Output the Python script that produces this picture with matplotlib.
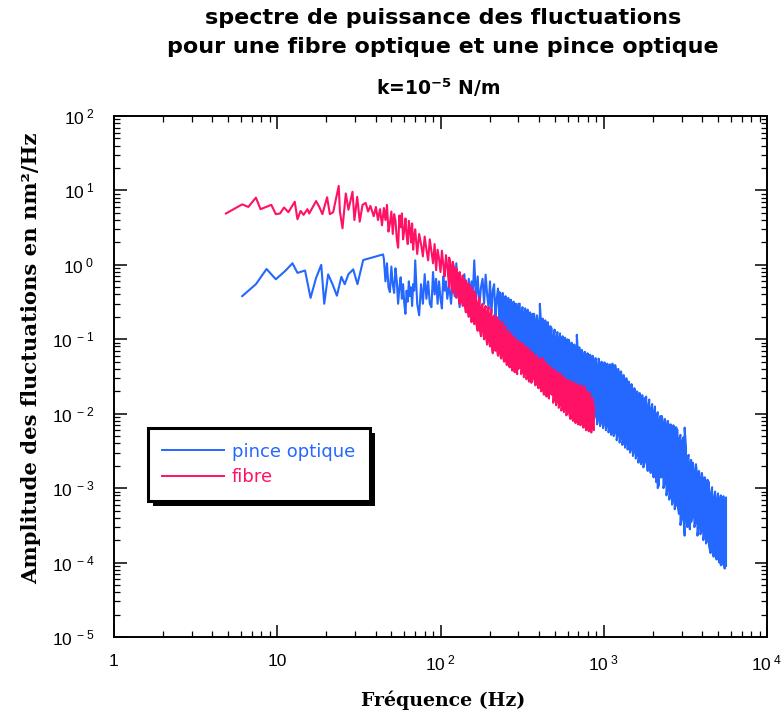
import matplotlib
matplotlib.use("Agg")
import matplotlib.pyplot as plt
from matplotlib.lines import Line2D
from matplotlib.patches import Rectangle

plt.rcParams['mathtext.fontset'] = 'custom'
plt.rcParams['mathtext.rm'] = 'Liberation Sans'
plt.rcParams['mathtext.bf'] = 'DejaVu Sans:bold'
plt.rcParams['mathtext.it'] = 'Liberation Sans:italic'

# ---------------- data ----------------
# Part 1: individual points of each spectrum (low frequencies, where the trace is a visible line)
fibre_line_freq = [4.85, 6.1, 6.65, 7.4, 7.9, 9.2, 9.8, 10.4, 11.0, 11.7, 12.8, 13.3, 13.9, 14.5, 15.3, 15.7,
                   17.3, 18.1, 18.9, 20.2, 21.0, 22.0, 23.8, 24.2, 25.1, 26.3, 27.3, 28.9, 29.7, 30.9, 32.0,
                   33.3, 34.8, 36.0, 37.2, 39.0, 40.2, 41.4, 42.6, 43.8,
                   45, 46, 47, 48, 49, 50, 51, 52, 53, 54, 55, 56, 57, 58, 59, 60, 61, 62, 63, 64, 65, 66,
                   67, 68, 69, 70, 72, 74, 76, 78, 80, 82, 84, 86, 88, 90, 92, 94, 96, 98, 100, 102, 104,
                   106, 108, 110]
fibre_line_amp = [4.9, 6.5, 6.0, 8.0, 5.6, 6.4, 4.8, 4.9, 5.9, 5.1, 7.05, 4.1, 5.3, 4.7, 5.6, 4.9,
                  7.2, 6.0, 4.8, 8.1, 4.8, 5.1, 11.5, 5.2, 3.1, 9.1, 5.5, 9.6, 4.0, 8.2, 3.8,
                  6.4, 6.8, 5.2, 6.2, 4.5, 6.0, 4.0, 5.6, 3.4,
                  5.8, 4.0, 6.4, 2.8, 3.6, 5.2, 2.6, 4.8, 3.9, 2.2, 1.7, 4.6, 3.2, 4.9, 2.2, 2.9, 4.2, 2.5, 1.9, 3.9,
                  3.0, 2.0, 3.6, 1.6, 2.4, 3.0,
                  1.4, 2.6, 1.9, 1.3, 2.4, 1.6, 1.15, 2.2, 1.5, 1.05, 1.9, 0.85, 1.6, 1.2, 0.8, 1.55, 1.0, 0.7,
                  1.35, 0.95]

pince_line_freq = [6.1, 7.4, 8.6, 9.8, 11.2, 12.4, 13.3, 14.8, 16.0, 17.3, 18.6, 19.4, 20.5, 21.8, 23.2, 24.7,
                   25.9, 27.3, 29.2, 31.0, 33.6, 44.5,
                   45, 46, 47, 48, 49, 50, 51, 52, 53, 54, 55, 56, 57, 58, 59, 60, 61, 62, 63, 64, 65, 66,
                   67, 68, 69, 70, 72, 74, 76, 78, 80, 82, 84, 86, 88, 90, 92, 94, 96, 98, 100, 102, 104,
                   106, 108, 110, 113, 116, 119, 122, 125, 128, 131, 134, 137, 140, 143, 146, 149, 152, 155,
                   158, 161, 165, 169, 173, 177, 181, 185, 189, 193, 197, 201, 205, 209, 213, 217, 221, 225]
pince_line_amp = [0.38, 0.55, 0.88, 0.64, 0.83, 1.05, 0.78, 0.84, 0.36, 0.67, 1.0, 0.30, 0.745, 0.55, 0.385, 0.69,
                  0.55, 0.75, 0.87, 0.55, 1.16, 1.38,
                  1.2, 0.6, 1.05, 0.5, 0.43, 0.95, 0.55, 0.42, 0.9, 0.6, 0.3, 0.5, 0.68, 0.35, 0.55, 0.3, 0.22, 0.45,
                  0.32, 0.6, 0.38, 0.5, 0.28, 0.55, 0.45, 1.15,
                  0.3, 0.21, 0.55, 0.3, 0.75, 0.35, 0.6, 0.3, 0.27, 0.8, 0.4, 0.65, 0.3, 0.6, 0.35, 0.26, 0.7, 0.45,
                  0.6, 0.35,
                  0.55, 0.3, 0.65, 0.38, 1.05, 0.45, 0.27, 0.6, 0.33, 0.75, 0.4, 0.3, 0.65, 0.35, 0.6, 0.42, 1.15,
                  0.35, 0.7, 0.28, 0.5, 0.65, 0.3, 0.74, 0.4, 0.26, 0.6, 0.22, 0.45, 0.55, 0.2, 0.35, 0.48]

# Part 2: dense band at higher frequencies: per frequency bin, the lowest and highest value of the trace
band_freq = [113, 116, 119, 122, 125, 128, 131, 134, 137, 140, 143, 146, 149, 152, 155, 158, 161,
             165, 169, 173, 177, 181, 185, 189, 193, 197, 201, 205, 209, 213, 217, 221, 225,
             230, 235, 240, 245, 250, 255, 260, 265, 270, 275, 280, 285, 290, 295, 300,
             306, 312, 318, 324, 330, 336, 342, 348, 354, 360, 366,
             374, 382, 390, 398, 406, 414, 422, 430, 438, 446, 454, 462, 470,
             480, 490, 500, 510, 520, 530, 540, 550, 560, 570, 580, 590, 600,
             612, 624, 636, 648, 660, 672, 684, 696, 708, 720,
             735, 750, 765, 780, 795, 810, 825, 840, 855, 870,
             890, 910, 930, 950, 970, 990, 1010, 1030, 1050, 1070, 1090, 1110, 1130, 1150,
             1175, 1200, 1225, 1250, 1275, 1300, 1325, 1350, 1375, 1400, 1425, 1450,
             1480, 1510, 1540, 1570, 1600, 1630, 1660, 1690, 1720, 1750, 1780,
             1820, 1860, 1900, 1940, 1980, 2020, 2060, 2100, 2140, 2180, 2220,
             2270, 2320, 2370, 2420, 2470, 2520, 2570, 2620, 2670, 2720, 2770,
             2830, 2890, 2950, 3010, 3070, 3130, 3190, 3250, 3310, 3370, 3430,
             3510, 3590, 3670, 3750, 3830, 3910, 3990, 4070, 4150, 4230, 4310,
             4410, 4510, 4610, 4710, 4810, 4910, 5010, 5110, 5210, 5310, 5410, 5510, 5610]

fibre_band_hi = [1.25, 0.95, 1.1, 0.85, 0.9, 0.7, 0.8, 0.6, 0.72, 0.55, 0.62, 0.5, 0.56, 0.42, 0.5, 0.38, 0.44,
                 0.37, 0.3, 0.36, 0.27, 0.3, 0.24, 0.28, 0.22, 0.27, 0.2, 0.25, 0.19, 0.21, 0.17, 0.2, 0.18,
                 0.18, 0.14, 0.17, 0.12, 0.15, 0.11, 0.13, 0.1, 0.12, 0.09, 0.11, 0.085, 0.1, 0.08, 0.095,
                 0.09, 0.075, 0.088, 0.07, 0.08, 0.065, 0.078, 0.062, 0.07, 0.058, 0.066,
                 0.062, 0.05, 0.06, 0.046, 0.055, 0.044, 0.056, 0.041, 0.05, 0.04, 0.046, 0.036, 0.043,
                 0.04, 0.032, 0.039, 0.03, 0.036, 0.028, 0.035, 0.026, 0.032, 0.025, 0.03, 0.024, 0.028,
                 0.028, 0.022, 0.027, 0.021, 0.026, 0.02, 0.025, 0.019, 0.024, 0.018,
                 0.024, 0.018, 0.023, 0.017, 0.02, 0.015, 0.019, 0.014, 0.016, 0.013]
fibre_band_lo = [0.5, 0.62, 0.42, 0.52, 0.36, 0.45, 0.3, 0.4, 0.28, 0.34, 0.23, 0.3, 0.2, 0.26, 0.17, 0.22, 0.16,
                 0.17, 0.13, 0.15, 0.11, 0.14, 0.1, 0.12, 0.085, 0.11, 0.08, 0.1, 0.065, 0.09, 0.07, 0.08, 0.06,
                 0.07, 0.055, 0.065, 0.05, 0.06, 0.045, 0.055, 0.042, 0.05, 0.038, 0.047, 0.036, 0.044, 0.034, 0.04,
                 0.042, 0.034, 0.04, 0.031, 0.038, 0.029, 0.036, 0.027, 0.034, 0.026, 0.031,
                 0.03, 0.024, 0.029, 0.022, 0.026, 0.02, 0.025, 0.018, 0.023, 0.017, 0.021, 0.016, 0.02,
                 0.018, 0.014, 0.017, 0.013, 0.016, 0.012, 0.014, 0.011, 0.013, 0.0105, 0.012, 0.0095, 0.011,
                 0.0105, 0.0085, 0.0098, 0.008, 0.0095, 0.0075, 0.009, 0.0072, 0.0085, 0.007,
                 0.008, 0.0065, 0.0078, 0.006, 0.0072, 0.0058, 0.007, 0.0056, 0.0065, 0.006]

pince_band_hi = [None] * 33 + [
                 0.43, 0.34, 0.42, 0.3, 0.38, 0.28, 0.36, 0.27, 0.34, 0.25, 0.32, 0.24, 0.3, 0.23, 0.3,
                 0.3, 0.22, 0.27, 0.2, 0.26, 0.19, 0.25, 0.18, 0.23, 0.17, 0.22,
                 0.22, 0.16, 0.21, 0.15, 0.3, 0.15, 0.19, 0.13, 0.18, 0.12, 0.17, 0.11, 0.15,
                 0.14, 0.1, 0.135, 0.095, 0.125, 0.09, 0.12, 0.085, 0.11, 0.08, 0.105, 0.078, 0.1,
                 0.098, 0.072, 0.09, 0.068, 0.085, 0.065, 0.115, 0.06, 0.078, 0.058,
                 0.072, 0.055, 0.068, 0.05, 0.065, 0.048, 0.062, 0.046, 0.06, 0.044,
                 0.056, 0.042, 0.055, 0.04, 0.05, 0.038, 0.049, 0.036, 0.047, 0.035, 0.046, 0.033, 0.047, 0.032,
                 0.045, 0.032, 0.04, 0.03, 0.037, 0.027, 0.033, 0.024, 0.03, 0.022, 0.027, 0.02,
                 0.025, 0.019, 0.022, 0.017, 0.02, 0.015, 0.019, 0.014, 0.0178, 0.013, 0.016,
                 0.017, 0.012, 0.0155, 0.011, 0.0135, 0.0095, 0.0125, 0.0085, 0.0105, 0.0075, 0.0093,
                 0.0093, 0.007, 0.0085, 0.0065, 0.008, 0.006, 0.0072, 0.0055, 0.007, 0.005, 0.0066,
                 0.006, 0.0045, 0.0052, 0.004, 0.0048, 0.0065, 0.0035, 0.0025, 0.0028, 0.002, 0.0024,
                 0.0022, 0.0016, 0.0021, 0.0014, 0.0017, 0.0012, 0.0016, 0.0011, 0.0014, 0.001, 0.0013,
                 0.0012, 0.0008, 0.00103, 0.0007, 0.0009, 0.00065, 0.00085, 0.0006, 0.0008, 0.00058, 0.00078,
                 0.0006, 0.00075]
pince_band_lo = [None] * 33 + [
                 0.14, 0.11, 0.15, 0.1, 0.13, 0.09, 0.16, 0.085, 0.1, 0.08, 0.095, 0.075, 0.09, 0.07, 0.085,
                 0.085, 0.065, 0.082, 0.06, 0.07, 0.055, 0.068, 0.05, 0.066, 0.048, 0.062,
                 0.055, 0.043, 0.052, 0.04, 0.045, 0.036, 0.043, 0.033, 0.04, 0.03, 0.038, 0.028, 0.035,
                 0.034, 0.026, 0.033, 0.024, 0.029, 0.022, 0.027, 0.02, 0.026, 0.019, 0.026, 0.018, 0.023,
                 0.022, 0.016, 0.021, 0.015, 0.018, 0.013, 0.016, 0.012, 0.015, 0.011,
                 0.014, 0.0105, 0.0135, 0.0098, 0.013, 0.0092, 0.0115, 0.0088, 0.011, 0.0082,
                 0.0096, 0.0072, 0.009, 0.0068, 0.0085, 0.0064, 0.008, 0.006, 0.0076, 0.0056, 0.0074, 0.0052,
                 0.0068, 0.005,
                 0.0058, 0.0044, 0.0056, 0.0041, 0.005, 0.0038, 0.0048, 0.0035, 0.0047, 0.0033, 0.0043, 0.003,
                 0.0036, 0.0027, 0.0034, 0.0025, 0.003, 0.0022, 0.0029, 0.0021, 0.0025, 0.0019, 0.0023,
                 0.0024, 0.0017, 0.0022, 0.0016, 0.0019, 0.0014, 0.0017, 0.0012, 0.001, 0.0011, 0.0014,
                 0.0014, 0.001, 0.0012, 0.0008, 0.001, 0.0007, 0.0009, 0.0006, 0.00075, 0.00052, 0.00062,
                 0.0006, 0.00045, 0.00032, 0.0004, 0.00045, 0.00023, 0.00042, 0.0003, 0.00038, 0.00028, 0.00035,
                 0.00042, 0.0003, 0.00035, 0.00023, 0.00033, 0.00024, 0.00028, 0.0002, 0.00025, 0.00018, 0.0002,
                 0.00017, 0.000134, 0.00016, 0.00012, 0.00014, 0.00011, 0.00012, 0.0001, 0.000092, 0.000095,
                 0.0001, 0.000083, 0.00009]

assert len(fibre_line_freq) == len(fibre_line_amp), (len(fibre_line_freq), len(fibre_line_amp))
assert len(pince_line_freq) == len(pince_line_amp), (len(pince_line_freq), len(pince_line_amp))
assert len(fibre_band_hi) == len(fibre_band_lo), (len(fibre_band_hi), len(fibre_band_lo))
assert len(pince_band_hi) == len(band_freq) == len(pince_band_lo), (len(pince_band_hi), len(band_freq), len(pince_band_lo))

series_labels = ["pince optique", "fibre"]
series_colors = ["#2468ff", "#ff1166"]

x_ticks = [1, 10, 100, 1000, 10000]
x_tick_labels = ["1", "10", r"$10^{\ 2}$", r"$10^{\ 3}$", r"$10^{\ 4}$"]
y_ticks = [1e-5, 1e-4, 1e-3, 1e-2, 1e-1, 1, 10, 100]
y_tick_labels = [r"$10^{\ -5}$", r"$10^{\ -4}$", r"$10^{\ -3}$", r"$10^{\ -2}$", r"$10^{\ -1}$",
                 r"$10^{\ 0}$", r"$10^{\ 1}$", r"$10^{\ 2}$"]


def trace(line_f, line_a, band_f, lo, hi):
    """Join the individual points with the band, drawn bin by bin from low to high value and back."""
    xs, ys = list(line_f), list(line_a)
    k = 0
    for f, a, b in zip(band_f, lo, hi):
        if a is None:
            continue
        xs += [f, f]
        ys += [a, b] if k % 2 == 0 else [b, a]
        k += 1
    return xs, ys


# ---------------- figure ----------------
fig = plt.figure(figsize=(7.83, 7.17), dpi=100)
ax = fig.add_axes([114/783, 1-637/717, (767-114)/783, (637-116)/717])

px, py = trace(pince_line_freq, pince_line_amp, band_freq, pince_band_lo, pince_band_hi)
fx, fy = trace(fibre_line_freq, fibre_line_amp, band_freq[:len(fibre_band_lo)], fibre_band_lo, fibre_band_hi)
ax.plot(px, py, color=series_colors[0], lw=1.5, zorder=2)
ax.plot(fx, fy, color=series_colors[1], lw=1.5, zorder=3)

ax.set_xscale('log')
ax.set_yscale('log')
ax.set_xlim(1, 1e4)
ax.set_ylim(1e-5, 1e2)
ax.set_xticks(x_ticks)
ax.set_xticklabels(x_tick_labels)
ax.set_yticks(y_ticks)
ax.set_yticklabels(y_tick_labels)
ax.tick_params(which='both', direction='in', top=True, right=True)
ax.tick_params(which='major', length=9, width=1.1, labelsize=12.5, pad=12)
ax.tick_params(which='minor', length=4, width=0.9)
ax.tick_params(axis='y', which='major', pad=14)
for lab in ax.get_xticklabels() + ax.get_yticklabels():
    lab.set_fontfamily('Liberation Sans')
for s in ax.spines.values():
    s.set_linewidth(1.4)

ax.set_xlabel("Fréquence (Hz)", fontfamily='DejaVu Serif', fontweight='bold', fontsize=13.6, va='center')
ax.xaxis.set_label_coords(0.504, -0.121)
ax.set_ylabel("Amplitude des fluctuations en nm²/Hz", fontfamily='DejaVu Serif', fontweight='bold',
              fontsize=15.2, va='center')
ax.yaxis.set_label_coords(-0.127, 0.535)

fig.text(0.566, 1-18/717, "spectre de puissance des fluctuations", ha='center', va='center',
         fontfamily='DejaVu Sans', fontweight='bold', fontsize=16)
fig.text(0.566, 1-47/717, "pour une fibre optique et une pince optique", ha='center', va='center',
         fontfamily='DejaVu Sans', fontweight='bold', fontsize=16)
fig.text(0.56, 1-88/717, r"k=10$^{\mathbf{-5}}$ N/m", ha='center', va='center',
         fontfamily='DejaVu Sans', fontweight='bold', fontsize=13.5)

# legend with black drop shadow
handles = [Line2D([], [], color=c, lw=1.4) for c in series_colors]
leg = ax.legend(handles, series_labels, loc='upper left', bbox_to_anchor=(0.052, 0.401),
                frameon=True, fancybox=False, edgecolor='black', facecolor='white', framealpha=1,
                handlelength=3.4, handletextpad=0.45, borderpad=0.8, labelspacing=0.42,
                borderaxespad=0, labelcolor='linecolor',
                prop={'family': 'DejaVu Sans', 'size': 13})
leg.get_frame().set_linewidth(2.2)
leg.set_zorder(10)
fig.canvas.draw()
bb = leg.get_window_extent().transformed(fig.transFigure.inverted())
shadow = Rectangle((bb.x0 + 5/783, bb.y0 - 5/717), bb.width, bb.height, transform=fig.transFigure,
                   facecolor='black', edgecolor='none', zorder=9)
ax.add_artist(shadow)
shadow.set_clip_on(False)

fig.savefig("out.png", dpi=100)
